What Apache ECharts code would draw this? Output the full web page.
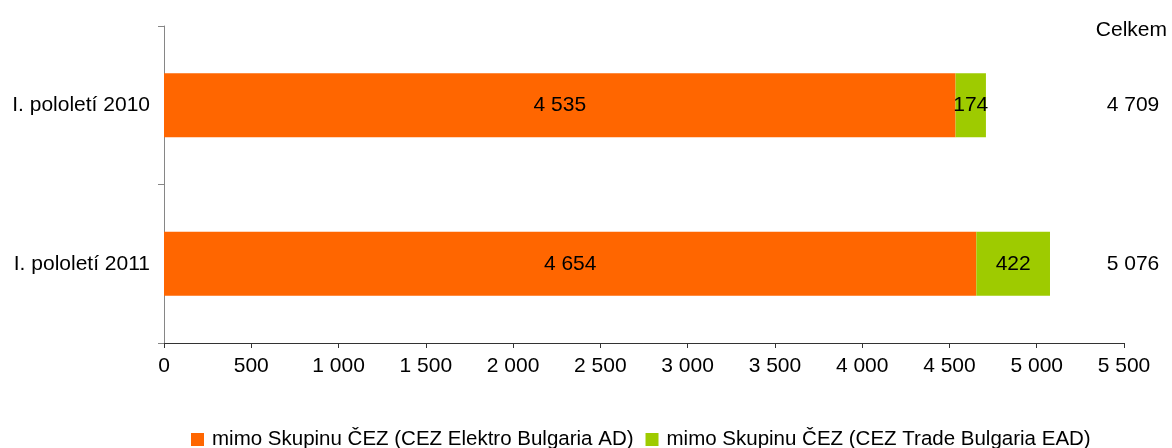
<!DOCTYPE html>
<html>
<head>
<meta charset="utf-8">
<script src="https://cdn.jsdelivr.net/npm/echarts@6/dist/echarts.min.js"></script>
<style>
  html, body { margin: 0; padding: 0; background: #fff; }
  #chart { width: 1172px; height: 448px; }
</style>
</head>
<body>
<div id="chart"></div>
<script>
const data = {
  periods: ["I. pololetí 2010", "I. pololetí 2011"],
  series: [
    { name: "mimo Skupinu ČEZ (CEZ Elektro Bulgaria AD)", color: "#FF6600", data: [4535, 4654] },
    { name: "mimo Skupinu ČEZ (CEZ Trade Bulgaria EAD)", color: "#9ECB00", data: [174, 422] },
  ],
};

// mezery jako oddělovač tisíců
const fmt = (n) => String(n).replace(/\B(?=(\d{3})+(?!\d))/g, " ");

const totals = data.periods.map((_, i) =>
  data.series.reduce((sum, s) => sum + s.data[i], 0)
);

const font = "Liberation Sans, Arial, sans-serif";
const fs = 21;
const myChart = echarts.init(document.getElementById("chart"));

myChart.setOption({
  animation: false,
  textStyle: { fontFamily: font },
  title: {
    text: "Celkem",
    right: 0,
    top: 15,
    textStyle: { fontFamily: font, fontSize: fs, fontWeight: "normal", color: "#000" },
  },
  legend: {
    top: 424,
    left: 186,
    icon: "rect",
    itemWidth: 13,
    itemHeight: 13,
    itemGap: 12,
    textStyle: { fontFamily: font, fontSize: 20.5, color: "#000", padding: [0, 0, 0, 3] },
    data: data.series.map((s) => s.name),
  },
  grid: {
    top: 26,
    left: 164,
    right: 48,
    bottom: 105,
    containLabel: false,
  },
  xAxis: {
    type: "value",
    min: 0,
    max: 5500,
    interval: 500,
    axisLine: { show: true, lineStyle: { color: "#333", width: 1 } },
    axisTick: { show: true, length: 5, lineStyle: { color: "#333" } },
    axisLabel: {
      color: "#000",
      fontSize: fs,
      margin: 13,
      formatter: (v) => fmt(v),
    },
    splitLine: { show: false },
  },
  yAxis: [
    {
      type: "category",
      inverse: true,
      data: data.periods,
      axisLine: { lineStyle: { color: "#868686" } },
      axisTick: { show: true, length: 6, lineStyle: { color: "#868686" } },
      axisLabel: { color: "#000", fontSize: fs, margin: 14 },
    },
    {
      type: "category",
      inverse: true,
      position: "right",
      data: totals.map(fmt),
      axisLine: { show: false },
      axisTick: { show: false },
      axisLabel: { color: "#000", fontSize: fs, margin: 9, align: "center", padding: [0, 0, 12, 0] },
    },
  ],
  series: data.series.map((s) => ({
    name: s.name,
    type: "bar",
    stack: "total",
    barWidth: 64,
    data: s.data,
    itemStyle: { color: s.color },
    label: {
      show: true,
      position: "inside",
      color: "#000",
      fontSize: fs,
      fontFamily: font,
      formatter: (p) => fmt(p.value),
    },
  })),
});
</script>
</body>
</html>
